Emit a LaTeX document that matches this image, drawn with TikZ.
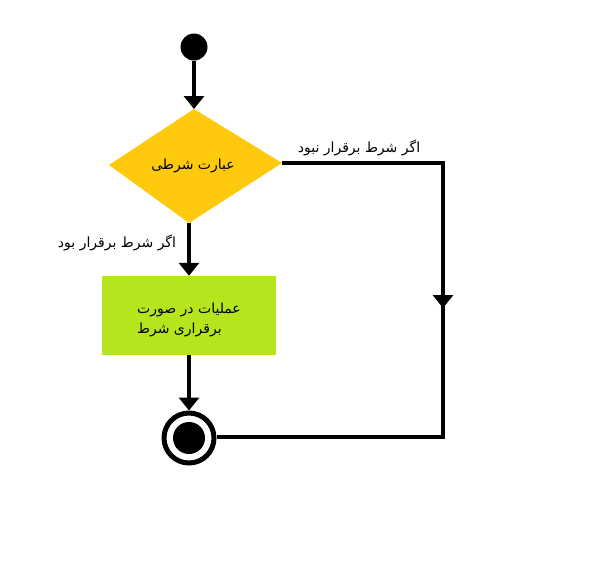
\documentclass[tikz,border=0pt]{standalone}
\usepackage{fontspec}
\newfontfamily\arabicfont[Script=Arabic]{DejaVu Sans}
\TeXXeTstate=1
\usetikzlibrary{arrows.meta,decorations.markings}
\definecolor{paintgold}{RGB}{255,201,14}
\definecolor{paintlime}{RGB}{181,230,29}
\tikzset{
  conn/.style={line width=4pt},
  tip/.style={-{Triangle[width=20pt,length=13pt]}},
  lbl/.style={font=\arabicfont\fontsize{14}{16}\selectfont, inner sep=0pt},
}
\begin{document}
\begin{tikzpicture}[x=1pt,y=-1pt]
\useasboundingbox (0,0) rectangle (600,560);
% start
\node[circle, fill=black, minimum size=27pt, inner sep=0pt] (start) at (194,47) {};
% diamond
\coordinate (dt) at (194,109);
\coordinate (dr) at (282,163);
\coordinate (db) at (189,223);
\coordinate (dl) at (109,165);
\fill[paintgold] (dt) -- (dr) -- (db) -- (dl) -- cycle;
\node[lbl] (cond) at (193,166) {\beginR عبارت شرطی\endR};
% action box
\node[fill=paintlime, minimum width=174pt, minimum height=79pt, inner sep=0pt] (act) at (189,315.5) {};
\node[align=left, inner sep=0pt, font=\arabicfont\fontsize{14}{20}\selectfont] (acttext) at (189,319.5)
      {\beginR عملیات در صورت\endR\\\beginR برقراری شرط\endR};
% end
\node[circle, draw=black, line width=5pt, minimum size=50pt, inner sep=0pt] (end) at (189,438) {};
\node[circle, fill=black, minimum size=32pt, inner sep=0pt] (endin) at (end.center) {};
% corners
\coordinate (c1) at (443,163);
\coordinate (c2) at (443,437);
% connectors
\draw[conn,tip] (start.south) -- (dt);
\draw[conn,tip] (db) -- (act.north);
\draw[conn,tip] (act.south) -- (end.north);
\draw[conn, postaction={decorate}, decoration={markings,
   mark=at position 306pt with {\arrow{Triangle[width=20pt,length=13pt]}}}]
   (dr) -- (c1) -- (c2) -- (end.east |- c2);
% labels
\node[lbl] (yes) at (117,243) {\beginR اگر شرط برقرار بود\endR};
\node[lbl] (no) at (359,148) {\beginR اگر شرط برقرار نبود\endR};
\end{tikzpicture}
\end{document}
